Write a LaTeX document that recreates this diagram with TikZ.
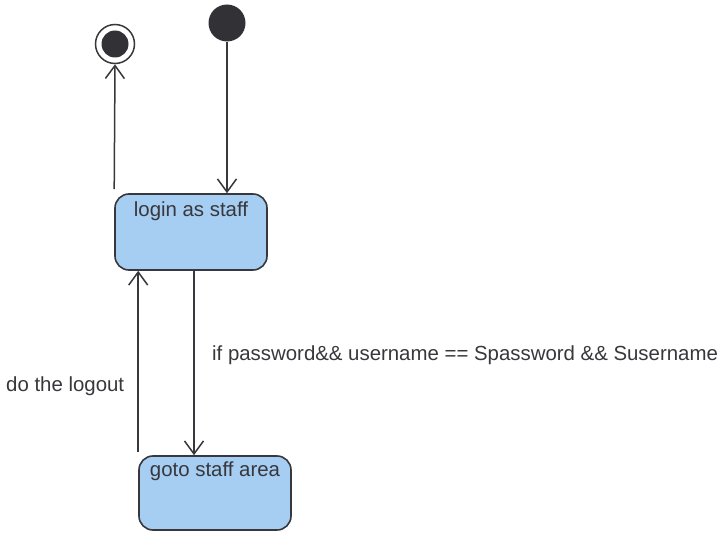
\documentclass[tikz,border=0pt]{standalone}
\usepackage{fontspec}
\setmainfont{Liberation Sans}
\usetikzlibrary{arrows.meta,calc}
\definecolor{boxfill}{RGB}{166,205,242}
\definecolor{ink}{RGB}{55,55,60}
\begin{document}
\begin{tikzpicture}[x=1pt,y=-1pt,
  statebox/.style={draw=ink,line width=1.6pt,fill=boxfill,rounded corners=14pt,minimum width=152pt,inner sep=0pt},
  boxtext/.style={font=\fontsize{20.4}{23}\selectfont,text=ink,inner sep=0pt,anchor=north},
  lbl/.style={font=\fontsize{20.4}{23}\selectfont,text=ink,inner sep=0pt},
  arr/.style={draw=ink,line width=1.5pt,-{Straight Barb[length=13pt,width=19pt,line width=1.5pt]}}]
\useasboundingbox (0,0) rectangle (726,535);
% pseudo-states
\node[circle,fill=ink!90!black,minimum size=37pt,inner sep=0pt] (init) at (227,23) {};
\node[circle,draw=ink,line width=1.5pt,minimum size=39pt,inner sep=0pt] (final) at (115,44) {};
\node[circle,fill=ink!90!black,minimum size=27pt,inner sep=0pt] (finalin) at (final) {};
% states
\node[statebox,minimum height=76pt] (login) at (191,232) {};
\node[boxtext] (logintxt) at ([yshift=-8pt]login.north) {login as staff};
\node[statebox,minimum height=74pt] (goto) at (215,493) {};
\node[boxtext] (gototxt) at ([yshift=-6pt]goto.north) {goto staff area};
% connector ends
\coordinate (fstart) at ($(login.north west)+(0,-4)$);
\coordinate (ustart) at ($(goto.north west)+(0,-3)$);
% connectors
\draw[arr] (init) -- (login.north -| init);
\draw[arr] (fstart) -- (final.south);
\draw[arr] (ustart) -- (ustart |- login.south);
\draw[arr] (login.south -| 194,0) -- (goto.north -| 194,0);
% labels
\node[lbl,anchor=west] (guard) at (212,355) {if password\&\& username == Spassword \&\& Susername};
\node[lbl,anchor=west] (logout) at (6,386) {do the logout};
\end{tikzpicture}
\end{document}
